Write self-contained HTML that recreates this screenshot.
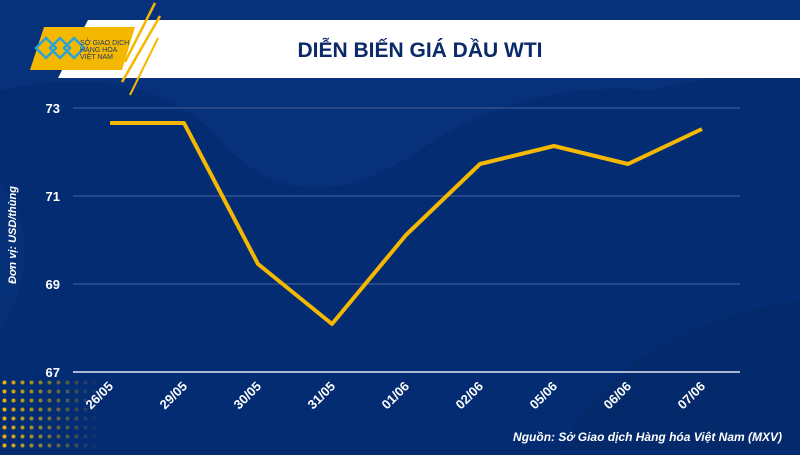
<!DOCTYPE html>
<html><head><meta charset="utf-8"><style>
body{margin:0;width:800px;height:450px;overflow:hidden;background:#032c72;font-family:"Liberation Sans",sans-serif}
</style></head><body>
<svg width="800" height="450" viewBox="0 0 800 450" xmlns="http://www.w3.org/2000/svg">
<defs>
<pattern id="dots" width="9" height="9" patternUnits="userSpaceOnUse"><circle cx="4.5" cy="4.5" r="2" fill="#f5b800"/></pattern>
<linearGradient id="fade" x1="0" x2="1"><stop offset="0" stop-color="#fff"/><stop offset="1" stop-color="#000"/></linearGradient>
<mask id="m"><rect x="0" y="378" width="100" height="72" fill="url(#fade)"/></mask>
</defs>
<rect width="800" height="450" fill="#032c72"/>
<path d="M0 90 Q150 60 220 140 Q300 230 420 150 Q520 80 650 90 L800 60 L800 0 L0 0Z" fill="#0a3580" opacity="0.6"/>
<path d="M560 450 Q620 330 800 300 L800 450Z" fill="#062a6a" opacity="0.8"/>
<path d="M0 180 Q50 250 0 330Z" fill="#0a3580" opacity="0.5"/>
<rect x="0" y="378" width="100" height="72" fill="url(#dots)" mask="url(#m)"/>
<polygon points="88,20 800,20 800,78 58,78" fill="#fff"/>
<polygon points="44,27 135,27 122,70 30,70" fill="#f5b800"/>
<line x1="155" y1="3" x2="125" y2="62" stroke="#f5b800" stroke-width="2.5"/>
<line x1="160" y1="16" x2="122" y2="82" stroke="#f5b800" stroke-width="2.5"/>
<line x1="158" y1="38" x2="130" y2="95" stroke="#f5b800" stroke-width="2"/>
<g fill="none" stroke="#2aa4d8" stroke-width="2.5">
<path d="M36 48 L46 38 L56 48 L46 58Z"/><path d="M50 48 L60 38 L70 48 L60 58Z"/><path d="M64 48 L74 38 L84 48 L74 58Z"/>
</g>
<text x="80" y="45" font-size="7" fill="#1a3a70">SỞ GIAO DỊCH</text>
<text x="80" y="52" font-size="7" fill="#1a3a70">HÀNG HÓA</text>
<text x="80" y="59" font-size="7" fill="#1a3a70">VIỆT NAM</text>
<text x="420" y="57" font-size="21" font-weight="bold" fill="#0b2a6a" text-anchor="middle">DIỄN BIẾN GIÁ DẦU WTI</text>
<g stroke="#4a64a0" stroke-width="1">
<line x1="73" y1="108" x2="740" y2="108"/><line x1="73" y1="196" x2="740" y2="196"/><line x1="73" y1="284" x2="740" y2="284"/>
</g>
<line x1="73" y1="372" x2="740" y2="372" stroke="#dfe6f3" stroke-width="1.5"/>
<g fill="#fff" font-size="13" font-weight="bold" text-anchor="end">
<text x="60" y="113">73</text><text x="60" y="201">71</text><text x="60" y="289">69</text><text x="60" y="377">67</text>
</g>
<text transform="translate(16,235) rotate(-90)" font-size="11" font-weight="bold" font-style="italic" fill="#fff" text-anchor="middle">Đơn vị: USD/thùng</text>
<g fill="#fff" font-size="13" font-weight="bold" text-anchor="end">
<text transform="translate(114,387) rotate(-45)">26/05</text>
<text transform="translate(188,387) rotate(-45)">29/05</text>
<text transform="translate(262,387) rotate(-45)">30/05</text>
<text transform="translate(336,387) rotate(-45)">31/05</text>
<text transform="translate(410,387) rotate(-45)">01/06</text>
<text transform="translate(484,387) rotate(-45)">02/06</text>
<text transform="translate(558,387) rotate(-45)">05/06</text>
<text transform="translate(632,387) rotate(-45)">06/06</text>
<text transform="translate(706,387) rotate(-45)">07/06</text>
</g>
<polyline points="110,123 184,123 258,264 332,324 406,235 480,164 554,146 628,164 702,129" fill="none" stroke="#f5b800" stroke-width="4" stroke-linejoin="round"/>
<text x="782" y="441" font-size="12" font-weight="bold" font-style="italic" fill="#fff" text-anchor="end">Nguồn: Sở Giao dịch Hàng hóa Việt Nam (MXV)</text>
</svg>
</body></html>
